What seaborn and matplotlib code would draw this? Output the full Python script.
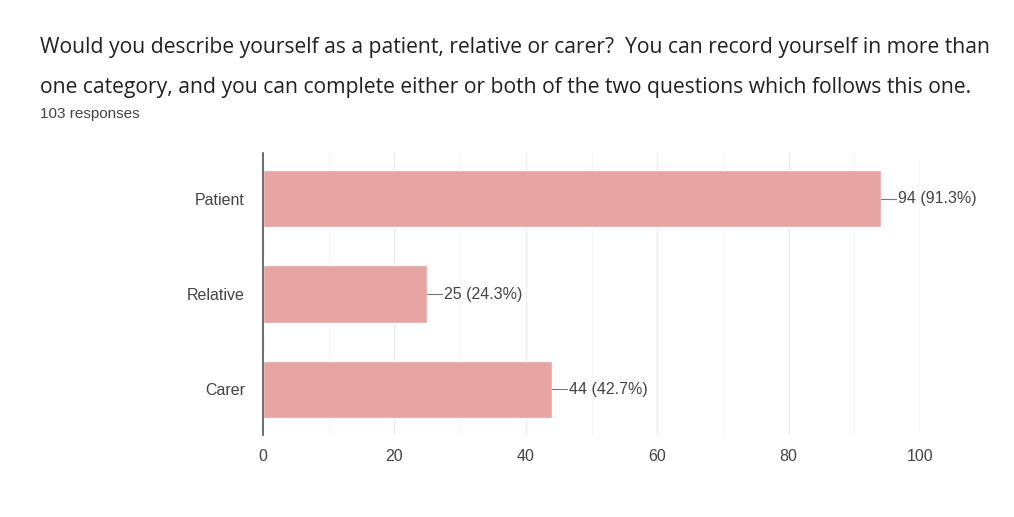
import matplotlib
matplotlib.use("Agg")
import matplotlib.pyplot as plt
import seaborn as sns
import pandas as pd

categories = ["Patient", "Relative", "Carer"]
counts = [94, 25, 44]
labels = ["94 (91.3%)", "25 (24.3%)", "44 (42.7%)"]
xticks = [0, 20, 40, 60, 80, 100]
title_lines = ["Would you describe yourself as a patient, relative or carer?  You can record yourself in more than",
               "one category, and you can complete either or both of the two questions which follows this one."]
subtitle = "103 responses"

sns.set_theme(style="white")
plt.rcParams['font.family'] = ['Liberation Sans', 'DejaVu Sans']

df = pd.DataFrame({"category": categories, "count": counts})

fig = plt.figure(figsize=(10.14, 5.17), dpi=100)
ax = fig.add_axes([263/1014, 1-435/517, (920-263)/1014, (435-153)/517])

sns.barplot(data=df, y="category", x="count", color="#e6a4a2", saturation=1,
            width=0.6, ax=ax, orient="h")

ax.set_xlim(0, 100)
ax.set_ylim(2.48, -0.48)
ax.set_xticks(xticks)
ax.set_xticks(range(10, 100, 20), minor=True)
ax.grid(axis="x", which="major", color="#ebebeb", lw=0.9)
ax.grid(axis="x", which="minor", color="#f6f6f6", lw=0.9)
ax.set_axisbelow(True)
for s in ["top", "right", "bottom"]:
    ax.spines[s].set_visible(False)
ax.spines["left"].set_color("#555555")
ax.spines["left"].set_linewidth(1.2)
ax.set_xlabel("")
ax.set_ylabel("")
ax.tick_params(axis="both", length=0, labelsize=11.5, colors="#444444")
ax.tick_params(axis="y", pad=13)
ax.tick_params(axis="x", pad=10)

for i, (c, lab) in enumerate(zip(counts, labels)):
    ax.plot([c, c + 2.3], [i, i], color="#777777", lw=0.8, clip_on=False)
    ax.text(c + 2.6, i, lab, va="center", ha="left", fontsize=11.5, color="#444444")

fig.text(40/1014, 1-48/517, title_lines[0], fontsize=15.2, color="#202124",
         family=["Open Sans", "DejaVu Sans"], va="center", ha="left")
fig.text(40/1014, 1-87/517, title_lines[1], fontsize=15.2, color="#202124",
         family=["Open Sans", "DejaVu Sans"], va="center", ha="left")
fig.text(40/1014, 1-114/517, subtitle, fontsize=11, color="#444444",
         va="center", ha="left")

fig.savefig("out.png", dpi=100, facecolor="white")
